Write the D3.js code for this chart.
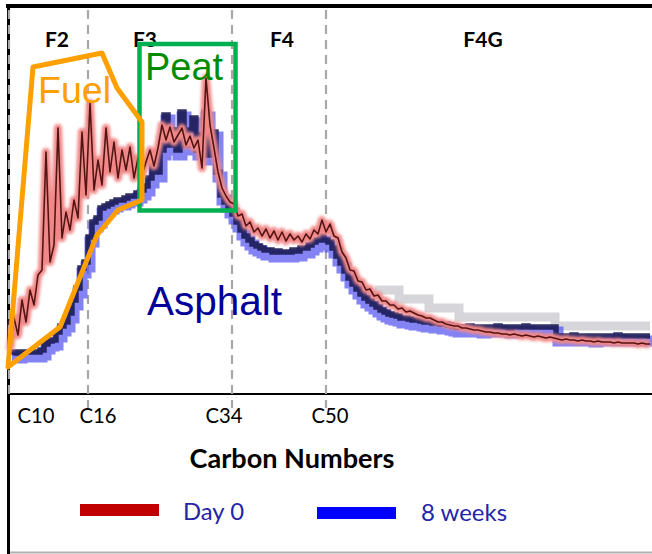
<!DOCTYPE html>
<html><head><meta charset="utf-8">
<script src="https://cdn.jsdelivr.net/npm/d3@7"></script>
<style>html,body{margin:0;padding:0;background:#fff;} svg{display:block;}</style>
</head><body>
<svg id="c" width="652" height="554"></svg>
<script>
// ---- data (retention time in minutes, intensity in arbitrary units) ----
const timeStart = 0.1;
const timeStep = 0.2;
const day0 = [44,76,59,94,72,104,89,119,124,242,132,149,266,156,182,164,194,176,262,199,
  291,204,234,209,266,222,252,216,244,224,247,216,236,219,232,244,228,246,269,254,
  267,252,259,266,249,258,246,254,226,316,269,246,222,206,198,192,190,178,180,168,
  172,162,166,158,165,156,163,154,162,153,160,154,158,152,160,155,164,160,174,162,
  170,158,156,142,136,124,123,113,112,104,105,98,99,93,93,89,89,85,86,82,
  83,81,79,78,76,76,74,72,72,70,69,68,68,66,66,65,64,64,63,62,
  62,61,61,60,60,59,60,59,58,59,58,57,58,57,56,57,56,55,54,55,
  54,54,53,54,53,53,52,53,52,52,52,51,52,51,51,51,51,50,51,50,50];
const weeks8 = [42,42,41,42,42,42,42,42,44,50,53,54,62,68,72,81,94,106,126,132,
  157,172,176,186,188,190,192,194,194,196,198,198,201,204,208,216,232,222,244,279,
  249,264,244,282,249,264,276,244,259,282,239,262,222,199,192,186,180,172,164,158,
  154,150,148,146,144,144,142,143,142,142,142,144,143,146,146,149,152,154,158,154,
  152,146,138,131,123,116,110,105,100,96,93,90,87,84,82,80,79,78,76,76,
  75,74,74,73,72,72,71,71,70,70,69,68,67,67,67,68,67,67,66,67,
  67,67,68,67,67,66,67,67,67,68,67,67,67,67,67,67,67,58,58,58,
  58,59,58,58,58,58,57,58,58,58,58,58,59,58,58,58,58,58,58,58,58];
const greyTimes = [18.35, 19.55, 21.05, 22.55, 27.35, 32.1];
const greyLevels = [104, 95, 86, 77, 68, 68];

const fractionNames = ["F2", "F3", "F4", "F4G"];
const fractionCenters = [2.45, 6.85, 13.7, 23.75];
const boundaryTimes = [0.05, 4.0, 11.2, 15.9];
const tickLabels = ["C10", "C16", "C34", "C50"];
const tickLabelTimes = [1.4, 4.5, 10.8, 16.1];
const seriesNames = ["Day 0", "8 weeks"];
const seriesColors = ["#c00000", "#0000ff"];

const fuelTimes = [0, 1.25, 4.7, 5.45, 6.7, 6.7, 5.5, 4.45, 2.6];
const fuelValues = [27, 327, 341, 306, 272, 194, 184, 159, 67];
const peatTimes = [6.575, 11.375];
const peatValues = [183.5, 350];
const annotationNames = ["Fuel", "Peat", "Asphalt"];
const annotationTimes = [1.5, 6.85, 6.95];
const annotationValues = [291, 314, 79];

// ---- drawing ----
const svg = d3.select("#c");
const W = 652, H = 554;
const x = d3.scaleLinear().domain([0, 32.2]).range([8, 652]);
const y = d3.scaleLinear().domain([0, 380]).range([394, 14]);
const tOf = i => timeStart + i * timeStep;

svg.append("rect").attr("width", W).attr("height", H).attr("fill", "#fff");
const defs = svg.append("defs");
defs.append("filter").attr("id", "glow").attr("x", "-5%").attr("y", "-20%").attr("width", "110%").attr("height", "140%")
  .append("feGaussianBlur").attr("stdDeviation", 1.6);
defs.append("filter").attr("id", "soft")
  .append("feGaussianBlur").attr("stdDeviation", 0.5);

function fit(sel, target) {
  const n = sel.node();
  let fs = parseFloat(sel.attr("font-size"));
  for (let k = 0; k < 3; k++) {
    const w = n.getComputedTextLength();
    if (!w) break;
    fs = fs * target / w;
    sel.attr("font-size", fs);
  }
}

// frame
svg.append("line").attr("x1", 8).attr("x2", 652).attr("y1", 552.5).attr("y2", 552.5)
  .attr("stroke", "#b0b0b0").attr("stroke-width", 2);
svg.append("line").attr("x1", 8).attr("x2", 652).attr("y1", y(0)).attr("y2", y(0))
  .attr("stroke", "#000").attr("stroke-width", 2.2);
svg.append("line").attr("x1", 8.5).attr("x2", 8.5).attr("y1", 4).attr("y2", 554)
  .attr("stroke", "#000").attr("stroke-width", 3);
svg.append("line").attr("x1", 6).attr("x2", 652).attr("y1", 6).attr("y2", 6)
  .attr("stroke", "#000").attr("stroke-width", 4);

// fraction boundaries (dashed)
svg.selectAll("line.bnd").data(boundaryTimes).enter().append("line")
  .attr("class", "bnd")
  .attr("x1", d => x(d)).attr("x2", d => x(d))
  .attr("y1", 10).attr("y2", d => d < 1 ? y(0) : y(0) + 14)
  .attr("stroke", "#a8a8a8").attr("stroke-width", 2.2).attr("stroke-dasharray", "9,6");

// grey step band
const greyPts = greyTimes.map((t, i) => [t, greyLevels[i]]);
svg.append("path").datum(greyPts)
  .attr("d", d3.line().x(d => x(d[0])).y(d => y(d[1])).curve(d3.curveStepAfter))
  .attr("fill", "none").attr("stroke", "#d6d6da").attr("stroke-width", 9);

// 8 weeks (blue)
const blueLine = d3.line().x((d, i) => x(tOf(i))).y(d => y(d)).curve(d3.curveStep);
svg.append("path").datum(weeks8).attr("d", blueLine)
  .attr("transform", "translate(2,5)")
  .attr("fill", "none").attr("stroke", "#5a5af0").attr("stroke-width", 11).attr("opacity", 0.75);
svg.append("path").datum(weeks8).attr("d", blueLine)
  .attr("fill", "none").attr("stroke", "#1b1b55").attr("stroke-width", 5.5).attr("opacity", 0.9);

// Day 0 (red)
const redLine = d3.line().x((d, i) => x(tOf(i))).y(d => y(d)).curve(d3.curveLinear);
svg.append("path").datum(day0).attr("d", redLine)
  .attr("fill", "none").attr("stroke", "#f08888").attr("stroke-width", 8)
  .attr("stroke-linejoin", "round").attr("filter", "url(#glow)");
svg.append("path").datum(day0).attr("d", redLine)
  .attr("fill", "none").attr("stroke", "#3a0606").attr("stroke-width", 1.6)
  .attr("stroke-linejoin", "round").attr("opacity", 0.85).attr("filter", "url(#soft)");

// fraction labels
svg.selectAll("text.frac").data(fractionNames).enter().append("text")
  .attr("class", "frac")
  .attr("x", (d, i) => x(fractionCenters[i])).attr("y", 47)
  .attr("text-anchor", "middle").attr("font-family", "Lato, 'Open Sans', sans-serif")
  .attr("font-weight", "bold").attr("font-size", 21).attr("fill", "#000")
  .text(d => d);

// peat box
svg.append("rect")
  .attr("x", x(peatTimes[0])).attr("y", y(peatValues[1]))
  .attr("width", x(peatTimes[1]) - x(peatTimes[0]))
  .attr("height", y(peatValues[0]) - y(peatValues[1]))
  .attr("fill", "none").attr("stroke", "#00b050").attr("stroke-width", 4.5);

// fuel polygon
const fuelPts = fuelTimes.map((t, i) => [x(t), y(fuelValues[i])]);
svg.append("polygon").attr("points", fuelPts.map(p => p.join(",")).join(" "))
  .attr("fill", "none").attr("stroke", "#ffa000").attr("stroke-width", 5)
  .attr("stroke-linejoin", "round");

// annotations
const annColors = ["#ffa000", "#008c00", "#000099"];
const annWidths = [73, 78, 135];
const annSizes = [38, 38, 34];
annotationNames.forEach((name, i) => {
  const t = svg.append("text")
    .attr("x", x(annotationTimes[i])).attr("y", y(annotationValues[i]))
    .attr("font-family", "'Liberation Sans', Arial, sans-serif")
    .attr("font-size", annSizes[i]).attr("fill", annColors[i]).text(name);
  fit(t, annWidths[i]);
});

// tick labels
svg.selectAll("text.tick").data(tickLabels).enter().append("text")
  .attr("class", "tick")
  .attr("x", (d, i) => x(tickLabelTimes[i])).attr("y", 423)
  .attr("text-anchor", "middle").attr("font-family", "Lato, sans-serif")
  .attr("font-size", 20).attr("fill", "#000").text(d => d)
  .each(function () { fit(d3.select(this), 37); });

// axis title
const title = svg.append("text").attr("x", 292).attr("y", 468)
  .attr("text-anchor", "middle").attr("font-family", "Lato, sans-serif")
  .attr("font-weight", "bold").attr("font-size", 22).attr("fill", "#000")
  .text("Carbon Numbers");
fit(title, 205);

// legend
const legX = [80, 317];
const legY = [504, 507];
const legTextX = [183, 421];
const legTextW = [61, 86];
seriesNames.forEach((name, i) => {
  svg.append("rect").attr("x", legX[i]).attr("y", legY[i]).attr("width", 79).attr("height", 12)
    .attr("fill", seriesColors[i]);
  const t = svg.append("text").attr("x", legTextX[i]).attr("y", 520 + i)
    .attr("font-family", "Lato, sans-serif").attr("font-size", 21)
    .attr("fill", "#2424a8").text(name);
  fit(t, legTextW[i]);
});
</script>
</body></html>
